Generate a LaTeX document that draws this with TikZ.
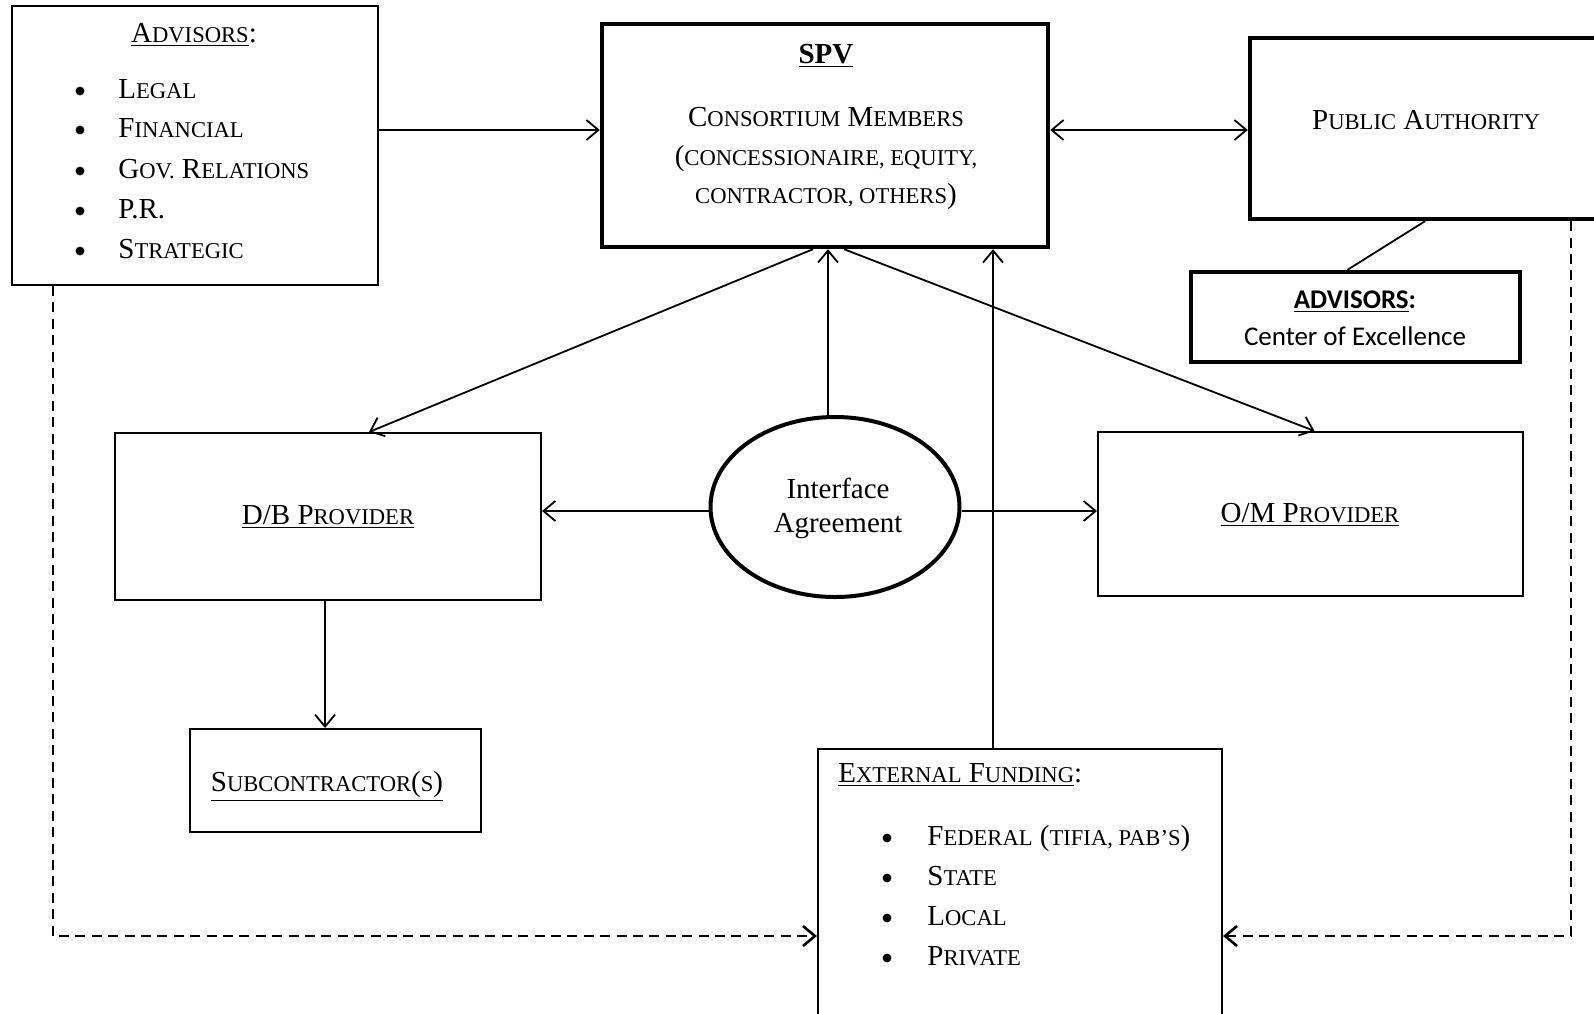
\documentclass[tikz,border=0pt]{standalone}
\usepackage{fontspec}
\setmainfont{Liberation Serif}
\newfontfamily\calfont{Carlito}
\usetikzlibrary{arrows.meta,fit,calc,shapes.geometric}
\newcommand\sk[1]{{\fontsize{11.3}{13}\selectfont #1}}
\begin{document}
\begin{tikzpicture}[x=0.5pt,y=-0.5pt,
  box/.style={draw,line width=1pt,inner sep=0pt},
  tbox/.style={draw,line width=2.2pt,inner sep=0pt},
  txt/.style={inner sep=0pt,font=\fontsize{14.5}{17}\selectfont},
  ctxt/.style={inner sep=0pt,font=\calfont\fontsize{13.5}{15}\selectfont},
  arr/.style={line width=0.9pt,-{Straight Barb[length=6pt,width=10pt]}},
  darr/.style={line width=0.9pt,{Straight Barb[length=6pt,width=10pt]}-{Straight Barb[length=6pt,width=10pt]}},
  dsh/.style={line width=1.3pt,dash pattern=on 5pt off 3.2pt,-{Straight Barb[length=6pt,width=10pt]}},
  bul/.style={circle,fill=black,inner sep=0pt,minimum size=4.4pt},
]
\useasboundingbox[fill=white] (0,0) rectangle (1594,1013);

% helper coordinates
\coordinate (y130) at (0,130);
\coordinate (y511) at (0,511);
\coordinate (y936) at (0,936);
\coordinate (x53) at (53,0);
\coordinate (x325) at (325,0);
\coordinate (x828) at (828,0);
\coordinate (x993) at (993,0);
\coordinate (x1571) at (1571,0);

% boxes
\node[box,fit={(12,6)(378,285)}] (adv) {};
\node[tbox,fit={(602,24)(1048,247)}] (spv) {};
\node[tbox,fit={(1250,38)(1600,219)}] (pa) {};
\node[tbox,fit={(1191,272)(1520,362)}] (coe) {};
\node[box,fit={(115,433)(541,600)}] (db) {};
\node[box,fit={(1098,432)(1523,596)}] (om) {};
\node[box,fit={(190,729)(481,832)}] (sub) {};
\node[box,fit={(818,749)(1222,1030)}] (ef) {};
\node[draw,ellipse,line width=2pt,minimum width=124.5pt,minimum height=90pt,inner sep=0pt] (ia) at (835,507) {};

% Advisors text
\node[txt,anchor=base] (advt) at (194,42) {\underline{A\sk{DVISORS}}:};
\node[bul] (ab1) at (80,91) {};
\node[bul] (ab2) at (80,130) {};
\node[bul] (ab3) at (80,171) {};
\node[bul] (ab4) at (80,211) {};
\node[bul] (ab5) at (80,251) {};
\node[txt,anchor=base west] (a1) at (118,98) {L\sk{EGAL}};
\node[txt,anchor=base west] (a2) at (118,137) {F\sk{INANCIAL}};
\node[txt,anchor=base west] (a3) at (118,178) {G\sk{OV.} R\sk{ELATIONS}};
\node[txt,anchor=base west] (a4) at (118,218) {P.R.};
\node[txt,anchor=base west] (a5) at (118,258) {S\sk{TRATEGIC}};

% SPV text
\node[txt,anchor=base] (s0) at (826,63) {\textbf{\underline{SPV}}};
\node[txt,anchor=base] (s1) at (826,126) {C\sk{ONSORTIUM} M\sk{EMBERS}};
\node[txt,anchor=base] (s2) at (826,165) {(\sk{CONCESSIONAIRE, EQUITY,}};
\node[txt,anchor=base] (s3) at (826,203) {\sk{CONTRACTOR, OTHERS})};

% Public authority
\node[txt,anchor=base] (pat) at (1426,129) {P\sk{UBLIC} A\sk{UTHORITY}};

% Center of excellence
\node[ctxt,anchor=base] (c1) at (1355,308) {\textbf{\underline{ADVISORS}:}};
\node[ctxt,anchor=base] (c2) at (1355,345) {Center of Excellence};

% Interface agreement
\node[txt,anchor=base] (i1) at (838,498) {Interface};
\node[txt,anchor=base] (i2) at (838,532) {Agreement};

% Providers
\node[txt,anchor=base] (dbt) at (328,524) {\underline{D/B P\sk{ROVIDER}}};
\node[txt,anchor=base] (omt) at (1310,522) {\underline{O/M P\sk{ROVIDER}}};
\node[txt,anchor=base] (subt) at (327,791) {\underline{S\sk{UBCONTRACTOR}(\sk{S})}};

% External funding
\node[txt,anchor=base west] (eft) at (838,782) {\underline{E\sk{XTERNAL} F\sk{UNDING}}:};
\node[bul] (eb1) at (887,838) {};
\node[bul] (eb2) at (887,878) {};
\node[bul] (eb3) at (887,918) {};
\node[bul] (eb4) at (887,958) {};
\node[txt,anchor=base west] (e1) at (927,845) {F\sk{EDERAL} (\sk{TIFIA, PAB’S})};
\node[txt,anchor=base west] (e2) at (927,885) {S\sk{TATE}};
\node[txt,anchor=base west] (e3) at (927,925) {L\sk{OCAL}};
\node[txt,anchor=base west] (e4) at (927,965) {P\sk{RIVATE}};

% connectors
\draw[arr] (adv.east |- y130) -- (spv.west |- y130);
\draw[darr] (spv.east |- y130) -- (pa.west |- y130);
\draw[line width=0.9pt] (pa.south) -- ([xshift=-4pt]coe.north);
\draw[arr] ([xshift=-6pt]spv.south) -- ([xshift=20.5pt]db.north);
\draw[arr] ([xshift=9.5pt]spv.south) -- ([xshift=2pt]om.north);
\draw[arr] (ia.north -| x828) -- (spv.south -| x828);
\draw[arr] (ia.west |- y511) -- (db.east |- y511);
\draw[arr] (ia.east |- y511) -- (om.west |- y511);
\draw[arr] (ef.north -| x993) -- (spv.south -| x993);
\draw[arr] (db.south -| x325) -- (sub.north -| x325);
\draw[dsh] (adv.south -| x53) |- (ef.west |- y936);
\draw[dsh] (pa.south -| x1571) |- (ef.east |- y936);
\end{tikzpicture}
\end{document}
